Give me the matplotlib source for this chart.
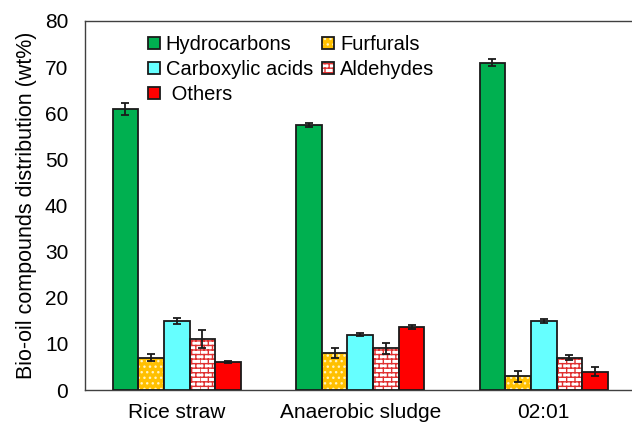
import numpy as np
import matplotlib
matplotlib.use("Agg")
import matplotlib.pyplot as plt
import matplotlib.hatch as mhatch
from matplotlib.path import Path
from matplotlib.legend_handler import HandlerTuple

# ---------------- data ----------------
categories = ["Rice straw", "Anaerobic sludge", "02:01"]
series_names = ["Hydrocarbons", "Furfurals", "Carboxylic acids", "Aldehydes", " Others"]
hydrocarbons = [61.0, 57.5, 71.0]
hydrocarbons_err = [1.3, 0.4, 0.7]
furfurals = [7.0, 8.0, 3.0]
furfurals_err = [0.8, 1.0, 1.2]
carboxylic = [15.0, 12.0, 15.0]
carboxylic_err = [0.6, 0.3, 0.5]
aldehydes = [11.0, 9.0, 7.0]
aldehydes_err = [2.0, 1.2, 0.5]
others = [6.0, 13.7, 4.0]
others_err = [0.2, 0.5, 0.9]
yticks = [0, 10, 20, 30, 40, 50, 60, 70, 80]


# ---------------- custom brick hatch (uses the 'O' character) ----------------
class BrickHatch(mhatch.HatchPatternBase):
    def __init__(self, hatch, density):
        n = hatch.count('O')
        if n:
            self.rows = 22
            self.cols = 12
            self.num_vertices = self.rows * 2 + self.rows * self.cols * 2
        else:
            self.num_vertices = 0

    def set_vertices_and_codes(self, vertices, codes):
        k = 0
        for i in range(self.rows):
            y0 = i / self.rows
            y1 = (i + 1) / self.rows
            vertices[k] = (0, y0); codes[k] = Path.MOVETO; k += 1
            vertices[k] = (1, y0); codes[k] = Path.LINETO; k += 1
            off = 0.0 if i % 2 == 0 else 0.5 / self.cols
            for j in range(self.cols):
                xx = j / self.cols + off
                vertices[k] = (xx, y0); codes[k] = Path.MOVETO; k += 1
                vertices[k] = (xx, y1); codes[k] = Path.LINETO; k += 1


mhatch._hatch_types = [BrickHatch if t is mhatch.LargeCircles else t
                       for t in mhatch._hatch_types]

plt.rcParams['font.family'] = ['Liberation Sans', 'DejaVu Sans']
plt.rcParams['hatch.linewidth'] = 1.0

fig = plt.figure(figsize=(6.32, 4.26), dpi=100)
ax = fig.add_axes([85 / 632, 36 / 426, 550.5 / 632, 369 / 426])

x = np.arange(len(categories))
w = 0.14
series = [hydrocarbons, furfurals, carboxylic, aldehydes, others]
errs = [hydrocarbons_err, furfurals_err, carboxylic_err, aldehydes_err, others_err]
faces = ['#00B050', '#FFC000', '#66FFFF', 'white', '#FF0000']
hatches = [None, '...', None, 'O', None]
hatch_cols = [None, '#FFF3C0', None, '#E03030', None]

handles = []
for i, (vals, er) in enumerate(zip(series, errs)):
    pos = x + (i - 2) * w
    parts = []
    if hatches[i]:
        hb = ax.bar(pos, vals, w, color=faces[i], edgecolor=hatch_cols[i],
                    hatch=hatches[i], linewidth=0, zorder=2)
        parts.append(hb.patches[0])
        b = ax.bar(pos, vals, w, facecolor='none', edgecolor='#1a1a1a',
                   linewidth=1.3, zorder=3)
    else:
        b = ax.bar(pos, vals, w, color=faces[i], edgecolor='#1a1a1a',
                   linewidth=1.3, zorder=3)
    parts.append(b.patches[0])
    ax.errorbar(pos, vals, yerr=er, fmt='none', ecolor='#1a1a1a',
                elinewidth=1.3, capsize=3, capthick=1.3, zorder=4)
    handles.append(tuple(parts))

ax.set_xlim(-0.5, 2.5)
ax.set_ylim(0, 80)
ax.set_yticks(yticks)
ax.set_xticks(x)
ax.set_xticklabels(categories)
ax.tick_params(axis='both', length=0, labelsize=15)
ax.tick_params(axis='y', pad=12)
ax.tick_params(axis='x', pad=9)
ax.set_ylabel('Bio-oil compounds distribution (wt%)', fontsize=15.5, labelpad=6)

for s in ['left', 'top', 'bottom']:
    ax.spines[s].set_color('#404040')
    ax.spines[s].set_linewidth(1.0)
ax.spines['right'].set_visible(False)

order = [0, 2, 4, 1, 3]
ax.legend([handles[k] for k in order], [series_names[k] for k in order],
          handler_map={tuple: HandlerTuple(ndivide=1)},
          ncol=2, frameon=False, fontsize=14.5, loc='upper left',
          bbox_to_anchor=(0.088, 1.0), handlelength=0.6, handleheight=0.6,
          handletextpad=0.3, columnspacing=0.45, labelspacing=0.3,
          borderaxespad=0.3)

fig.savefig('out.png', dpi=100)
